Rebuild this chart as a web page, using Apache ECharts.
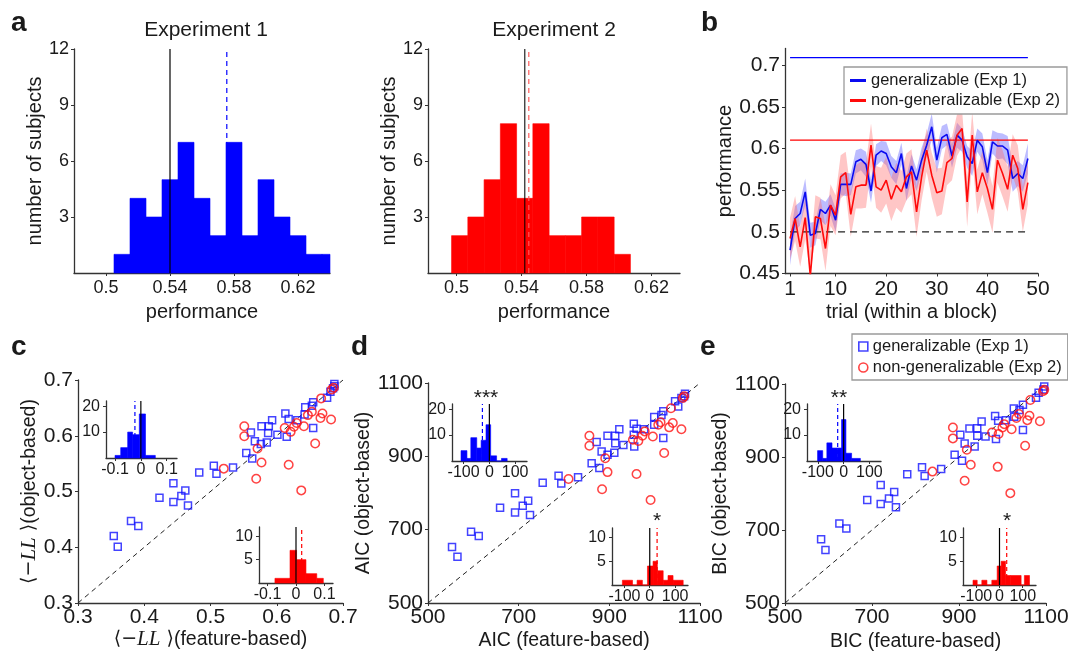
<!DOCTYPE html>
<html>
<head>
<meta charset="utf-8">
<script src="https://cdn.jsdelivr.net/npm/echarts@6/dist/echarts.min.js"></script>
<style>
  html, body { margin: 0; padding: 0; background: #fff; }
  #main { width: 1068px; height: 657px; }
</style>
</head>
<body>
<div id="main"></div>
<script>
// ---- panel a: histograms of performance ----
const exp1Edges = [0.505, 0.515, 0.525, 0.535, 0.545, 0.555, 0.565, 0.575, 0.585, 0.595, 0.605, 0.615, 0.625, 0.635, 0.645]
const exp1Counts = [1, 4, 3, 5, 7, 4, 2, 7, 2, 5, 3, 2, 1, 1]
const exp1Mean = 0.5755
const exp2Edges = [0.497, 0.507, 0.517, 0.527, 0.537, 0.547, 0.557, 0.567, 0.577, 0.587, 0.597, 0.607]
const exp2Counts = [2, 3, 5, 8, 4, 8, 2, 2, 3, 3, 1]
const exp2Mean = 0.5445
const chanceA1 = 0.54
const chanceA2 = 0.542
const perfTicks = [0.5, 0.54, 0.58, 0.62]
const countTicks = [3, 6, 9, 12]

// ---- panel b: learning curves ----
const blueMean = [0.478, 0.516, 0.522, 0.548, 0.496, 0.498, 0.527, 0.522, 0.532, 0.514, 0.557, 0.557, 0.557, 0.584, 0.587, 0.581,
  0.549, 0.592, 0.597, 0.594, 0.578, 0.571, 0.594, 0.552, 0.579, 0.562, 0.586, 0.604, 0.626, 0.586, 0.613, 0.617,
  0.591, 0.616, 0.610, 0.590, 0.582, 0.610, 0.602, 0.571, 0.608, 0.603, 0.603, 0.598, 0.564, 0.570, 0.564, 0.588]
const blueSem = [0.018, 0.015, 0.014, 0.016, 0.015, 0.014, 0.013, 0.014, 0.013, 0.014, 0.013, 0.014, 0.013, 0.014, 0.013, 0.015,
  0.014, 0.013, 0.012, 0.014, 0.013, 0.014, 0.013, 0.015, 0.014, 0.013, 0.015, 0.014, 0.016, 0.015, 0.014, 0.013,
  0.014, 0.015, 0.014, 0.013, 0.015, 0.014, 0.016, 0.015, 0.014, 0.016, 0.015, 0.017, 0.016, 0.015, 0.016, 0.018]
const redMean = [0.492, 0.516, 0.482, 0.517, 0.447, 0.518, 0.516, 0.480, 0.532, 0.520, 0.566, 0.571, 0.521, 0.554, 0.556, 0.556,
  0.604, 0.554, 0.550, 0.562, 0.539, 0.556, 0.548, 0.566, 0.572, 0.524, 0.566, 0.598, 0.568, 0.547, 0.549, 0.583,
  0.588, 0.616, 0.624, 0.536, 0.616, 0.548, 0.571, 0.552, 0.527, 0.586, 0.570, 0.551, 0.592, 0.576, 0.527, 0.559]
const redSem = [0.025, 0.027, 0.024, 0.026, 0.030, 0.026, 0.025, 0.027, 0.025, 0.024, 0.026, 0.025, 0.027, 0.026, 0.028, 0.027,
  0.026, 0.025, 0.027, 0.028, 0.026, 0.027, 0.025, 0.028, 0.027, 0.030, 0.028, 0.026, 0.027, 0.029, 0.028, 0.027,
  0.026, 0.025, 0.022, 0.030, 0.028, 0.027, 0.026, 0.029, 0.028, 0.027, 0.028, 0.027, 0.025, 0.028, 0.027, 0.026]
const blueRef = 0.709
const redRef = 0.61
const chanceB = 0.5
const trialTicks = [1, 10, 20, 30, 40, 50]
const perfTicksB = [0.45, 0.5, 0.55, 0.6, 0.65, 0.7]

// ---- panel c: <-LL> ----
const cBlueX = [0.354, 0.360, 0.380, 0.391, 0.423, 0.444, 0.444, 0.456, 0.462, 0.466, 0.483, 0.505, 0.509, 0.534, 0.554, 0.563, 0.561, 0.567, 0.577, 0.576,
  0.585, 0.587, 0.588, 0.593, 0.601, 0.613, 0.615, 0.618, 0.631, 0.642, 0.643, 0.655, 0.655, 0.653, 0.676, 0.681, 0.685, 0.687, 0.687]
const cBlueY = [0.420, 0.401, 0.447, 0.438, 0.489, 0.515, 0.481, 0.492, 0.502, 0.475, 0.534, 0.546, 0.532, 0.543, 0.569, 0.559, 0.606, 0.590, 0.617, 0.585,
  0.588, 0.605, 0.617, 0.628, 0.602, 0.640, 0.598, 0.630, 0.628, 0.638, 0.651, 0.614, 0.660, 0.654, 0.668, 0.679, 0.685, 0.693, 0.689]
const cRedX = [0.551, 0.551, 0.520, 0.571, 0.577, 0.569, 0.618, 0.637, 0.658, 0.621, 0.612, 0.626, 0.630, 0.641, 0.647, 0.653, 0.666, 0.669, 0.682, 0.667, 0.683, 0.686]
const cRedY = [0.617, 0.599, 0.541, 0.577, 0.552, 0.523, 0.548, 0.502, 0.586, 0.607, 0.614, 0.616, 0.623, 0.617, 0.637, 0.643, 0.632, 0.640, 0.629, 0.667, 0.683, 0.686]
const cTicks = [0.3, 0.4, 0.5, 0.6, 0.7]
const cBlueHistEdges = [-0.1, -0.078, -0.051, -0.032, -0.006, 0.018, 0.056]
const cBlueHistCounts = [1, 4, 10, 9, 17, 1]
const cBlueHistMean = -0.023
const cRedHistEdges = [-0.074, -0.021, 0.002, 0.035, 0.073, 0.096]
const cRedHistCounts = [1, 7, 5, 2, 1]
const cRedHistMean = 0.02

// ---- panel d: AIC ----
const dBlueX = [553, 565, 595, 612, 659, 692, 692, 709, 721, 725, 753, 788, 794, 831, 861, 878, 872, 883, 896, 896,
  913, 913, 911, 922, 931, 954, 954, 955, 960, 977, 999, 999, 1019, 1019, 1015, 1045, 1052, 1059, 1067, 1065]
const dBlueY = [653, 626, 694, 683, 760, 799, 747, 765, 779, 740, 828, 847, 826, 843, 881, 868, 939, 913, 956, 904,
  956, 936, 910, 974, 931, 989, 959, 927, 975, 974, 1007, 986, 950, 1023, 1013, 1050, 1036, 1059, 1071, 1064]
const dRedX = [856, 856, 810, 891, 896, 884, 960, 991, 1021, 952, 964, 973, 978, 996, 1008, 1013, 1032, 1040, 1059, 1036, 1062, 1065]
const dRedY = [956, 929, 838, 895, 857, 810, 852, 781, 909, 945, 942, 956, 968, 954, 986, 993, 979, 991, 974, 1031, 1059, 1064]
const dBlueHistEdges = [-110, -87, -72, -49, -32, -13, 5, 28, 47, 69]
const dBlueHistCounts = [4, 1, 9, 5, 8, 14, 2, 0, 1]
const dBlueHistMean = -27
const dRedHistEdges = [-108, -68, -50, -29, -9, 13, 30, 53, 72, 92, 132]
const dRedHistCounts = [1, 0, 1, 0, 4, 5, 3, 1, 2, 1]
const dRedHistMean = 29

// ---- panel e: BIC ----
const eBlueX = [583, 593, 625, 641, 689, 720, 720, 739, 751, 755, 781, 815, 821, 859, 890, 907, 903, 913, 924, 936,
  942, 942, 952, 961, 983, 985, 990, 1008, 1026, 1047, 1047, 1039, 1077, 1083, 1096, 1094, 1027]
const eBlueY = [675, 645, 718, 704, 782, 823, 771, 786, 804, 762, 853, 872, 848, 867, 906, 890, 961, 937, 978, 929,
  979, 958, 997, 956, 1012, 949, 999, 1001, 1033, 1043, 974, 1029, 1062, 1076, 1093, 1085, 1010]
const eRedX = [886, 886, 839, 918, 927, 913, 989, 1018, 1052, 976, 991, 1000, 1004, 1021, 1032, 1038, 1057, 1062, 1086, 1064, 1093, 1096]
const eRedY = [981, 951, 860, 920, 879, 835, 873, 801, 931, 967, 963, 981, 990, 976, 1007, 1018, 1001, 1013, 998, 1056, 1080, 1084]
const icTicks = [500, 700, 900, 1100]
const eBlueHistEdges = [-101, -81, -65, -45, -23, -8, 9, 31, 65]
const eBlueHistCounts = [4, 1, 7, 5, 5, 16, 3, 1]
const eBlueHistMean = -23
const eRedHistEdges = [-114, -96, -76, -54, -33, -10, 7, 26, 47, 93, 107, 129]
const eRedHistCounts = [1, 0, 1, 0, 1, 4, 5, 2, 2, 0, 2]
const eRedHistMean = 31

const insetBlueTicks = [10, 20]
const insetRedTicks = [5, 10]

const FONT = '"Liberation Sans", Arial, Helvetica, sans-serif'
const TXT = '#1a1a1a'
const AX = '#333'
const BLUE = '#0000ff'
const RED = '#ff0000'
const MARK_BLUE = '#1414ff'
const MARK_RED = '#ff1414'

const chart = echarts.init(document.getElementById('main'), null, { renderer: 'canvas' })

const zip = (xs, ys) => xs.map((x, i) => [x, ys[i]])
const hist = (edges, counts) => counts.map((c, i) => [edges[i], edges[i + 1], c])
const trialPts = (arr) => arr.map((v, i) => [i + 1, v])

const histRender = (params, api) => {
  const p0 = api.coord([api.value(0), api.value(2)])
  const p1 = api.coord([api.value(1), 0])
  const rect = echarts.graphic.clipRectByRect(
    { x: p0[0], y: p0[1], width: p1[0] - p0[0], height: p1[1] - p0[1] },
    params.coordSys
  )
  if (!rect) return null
  const style = api.style()
  style.stroke = style.fill
  style.lineWidth = 0.6
  return { type: 'rect', shape: rect, style }
}

// shaded band (mean ± sem) drawn as one polygon through the axis scales
const bandRender = (mean, sem, color) => (params, api) => {
  if (params.dataIndex !== 0) return null
  const pts = []
  mean.forEach((v, i) => pts.push(api.coord([i + 1, v - sem[i]])))
  for (let i = mean.length - 1; i >= 0; i--) pts.push(api.coord([i + 1, mean[i] + sem[i]]))
  return {
    type: 'polygon',
    shape: { points: echarts.graphic.clipPointsByRect(pts, params.coordSys) },
    style: { fill: color }
  }
}

// grids: a1, a2, b, c, cIn1, cIn2, d, dIn1, dIn2, e, eIn1, eIn2
const grids = [
  { left: 74, top: 49, width: 256, height: 224 },
  { left: 428, top: 49, width: 252, height: 224 },
  { left: 785, top: 48.5, width: 253, height: 225 },
  { left: 78, top: 380, width: 265, height: 223 },
  { left: 106, top: 401, width: 71, height: 57 },
  { left: 259, top: 527, width: 74, height: 56 },
  { left: 428, top: 383, width: 272, height: 220 },
  { left: 452, top: 404, width: 75, height: 57 },
  { left: 612, top: 528, width: 76, height: 57 },
  { left: 785, top: 384, width: 261, height: 219 },
  { left: 807, top: 404, width: 74, height: 57 },
  { left: 963, top: 528, width: 73, height: 57 }
].map((g) => Object.assign({ outerBoundsMode: 'none', containLabel: false }, g))

const axis = (gridIndex, min, max, ticks, fontSize, margin, extra) => Object.assign({
  type: 'value',
  gridIndex,
  min,
  max,
  axisLine: { show: true, onZero: false, lineStyle: { color: AX, width: 1.3 } },
  axisTick: { show: true, inside: false, length: 3, customValues: ticks, lineStyle: { color: AX, width: 1 } },
  axisLabel: {
    customValues: ticks,
    fontSize,
    fontFamily: FONT,
    color: TXT,
    margin,
    formatter: (v) => String(v)
  },
  splitLine: { show: false }
}, extra)

const nameStyle = (size) => ({ fontSize: size, fontFamily: FONT, color: TXT })
const llRich = {
  fontSize: 19.5,
  fontFamily: FONT,
  color: TXT,
  rich: {
    i: { fontStyle: 'italic', fontFamily: '"Liberation Serif", "DejaVu Serif", serif', fontSize: 21, color: TXT },
    m: { fontFamily: '"DejaVu Sans", sans-serif', fontSize: 19, color: TXT }
  }
}

const xAxes = [
  axis(0, 0.48, 0.64, perfTicks, 18, 6, { name: 'performance', nameLocation: 'middle', nameGap: 29, nameTextStyle: nameStyle(20) }),
  axis(1, 0.4825, 0.6375, perfTicks, 18, 6, { name: 'performance', nameLocation: 'middle', nameGap: 29, nameTextStyle: nameStyle(20) }),
  axis(2, 0, 50, trialTicks, 21, 5, { name: 'trial (within a block)', nameLocation: 'middle', nameGap: 29, nameTextStyle: nameStyle(20) }),
  axis(3, 0.3, 0.7, cTicks, 21, 4, { name: '{m|⟨−}{i|LL}{m| ⟩}(feature-based)', nameLocation: 'middle', nameGap: 26, nameTextStyle: llRich }),
  axis(4, -0.135, 0.14, [-0.1, 0, 0.1], 16, 4),
  axis(5, -0.13, 0.13, [-0.1, 0, 0.1], 16, 4),
  axis(6, 500, 1100, icTicks, 21, 4, { name: 'AIC (feature-based)', nameLocation: 'middle', nameGap: 28, nameTextStyle: nameStyle(19.5) }),
  axis(7, -145, 146, [-100, 0, 100], 16, 4),
  axis(8, -149, 151, [-100, 0, 100], 16, 4),
  axis(9, 500, 1100, icTicks, 21, 4, { name: 'BIC (feature-based)', nameLocation: 'middle', nameGap: 29, nameTextStyle: nameStyle(19.5) }),
  axis(10, -142, 145, [-100, 0, 100], 16, 4),
  axis(11, -157, 157, [-100, 0, 100], 16, 4)
]

const yAxes = [
  axis(0, 0, 12, countTicks, 18, 5, { name: 'number of subjects', nameLocation: 'middle', nameGap: 24, nameTextStyle: nameStyle(20) }),
  axis(1, 0, 12, countTicks, 18, 5, { name: 'number of subjects', nameLocation: 'middle', nameGap: 26, nameTextStyle: nameStyle(20) }),
  axis(2, 0.45, 0.72, perfTicksB, 21, 5, { name: 'performance', nameLocation: 'middle', nameGap: 48, nameTextStyle: nameStyle(20) }),
  axis(3, 0.3, 0.7, cTicks, 21, 5, { name: '{m|⟨−}{i|LL}{m| ⟩}(object-based)', nameLocation: 'middle', nameGap: 36, nameTextStyle: llRich }),
  axis(4, 0, 22, insetBlueTicks, 16, 6),
  axis(5, 0, 12, insetRedTicks, 16, 6),
  axis(6, 500, 1100, icTicks, 21, 5, { name: 'AIC (object-based)', nameLocation: 'middle', nameGap: 47, nameTextStyle: nameStyle(19.5) }),
  axis(7, 0, 22, insetBlueTicks, 16, 6),
  axis(8, 0, 12, insetRedTicks, 16, 6),
  axis(9, 500, 1100, icTicks, 21, 5, { name: 'BIC (object-based)', nameLocation: 'middle', nameGap: 49, nameTextStyle: nameStyle(19.5) }),
  axis(10, 0, 22, insetBlueTicks, 16, 6),
  axis(11, 0, 12, insetRedTicks, 16, 6)
]

// simple line between two points on a grid
const seg = (idx, pts, color, width, type, z) => ({
  type: 'line',
  xAxisIndex: idx,
  yAxisIndex: idx,
  data: pts,
  symbol: 'none',
  silent: true,
  z,
  lineStyle: { color, width, type }
})

const histSeries = (idx, edges, counts, color) => ({
  type: 'custom',
  xAxisIndex: idx,
  yAxisIndex: idx,
  renderItem: histRender,
  encode: { x: [0, 1], y: 2 },
  itemStyle: { color },
  data: hist(edges, counts),
  silent: true,
  z: 2
})

const bandSeries = (mean, sem, color) => ({
  type: 'custom',
  xAxisIndex: 2,
  yAxisIndex: 2,
  renderItem: bandRender(mean, sem, color),
  encode: { x: 0, y: 1 },
  data: trialPts(mean),
  silent: true,
  z: 1
})

const scatter = (idx, name, pts, symbol, size, color) => ({
  type: 'scatter',
  name,
  xAxisIndex: idx,
  yAxisIndex: idx,
  symbol,
  symbolSize: size,
  data: pts,
  itemStyle: { color: 'rgba(0,0,0,0)', borderColor: color, borderWidth: 1.5 },
  z: 3
})

const inset = (idx, edges, counts, mean, yMax, color) => [
  seg(idx, [[mean, 0], [mean, yMax]], color, 1.2, [4, 3], 1),
  histSeries(idx, edges, counts, color),
  seg(idx, [[0, 0], [0, yMax]], '#000', 1.2, 'solid', 4)
]

const series = [
  // a: Experiment 1
  seg(0, [[exp1Mean, 0], [exp1Mean, 12]], BLUE, 1.2, [5, 4], 1),
  histSeries(0, exp1Edges, exp1Counts, BLUE),
  seg(0, [[chanceA1, 0], [chanceA1, 12]], '#000', 1.2, 'solid', 4),
  // a: Experiment 2
  seg(1, [[exp2Mean, 0], [exp2Mean, 12]], '#ff5a5a', 1.2, [5, 4], 5),
  histSeries(1, exp2Edges, exp2Counts, RED),
  seg(1, [[chanceA2, 0], [chanceA2, 12]], 'rgba(0,0,0,0.75)', 1.4, 'solid', 4),
  // b
  bandSeries(blueMean, blueSem, 'rgba(95,95,255,0.42)'),
  bandSeries(redMean, redSem, 'rgba(255,105,105,0.38)'),
  seg(2, [[1, chanceB], [48, chanceB]], '#222', 1.2, [7, 5], 2),
  seg(2, [[1, blueRef], [48, blueRef]], BLUE, 1.2, 'solid', 2),
  seg(2, [[1, redRef], [48, redRef]], RED, 1.2, 'solid', 2),
  { type: 'line', name: 'generalizable (Exp 1)', xAxisIndex: 2, yAxisIndex: 2, symbol: 'none',
    lineStyle: { color: '#0a0af0', width: 1.6 }, itemStyle: { color: '#0a0af0' }, data: trialPts(blueMean), z: 3 },
  { type: 'line', name: 'non-generalizable (Exp 2)', xAxisIndex: 2, yAxisIndex: 2, symbol: 'none',
    lineStyle: { color: '#ff0a0a', width: 1.6 }, itemStyle: { color: '#ff0a0a' }, data: trialPts(redMean), z: 4 },
  // c
  seg(3, [[0.3, 0.3], [0.7, 0.7]], '#222', 1, [5, 4], 1),
  scatter(3, 'gen', zip(cBlueX, cBlueY), 'rect', 7, MARK_BLUE),
  scatter(3, 'nongen', zip(cRedX, cRedY), 'circle', 8.5, MARK_RED),
  ...inset(4, cBlueHistEdges, cBlueHistCounts, cBlueHistMean, 22, BLUE),
  ...inset(5, cRedHistEdges, cRedHistCounts, cRedHistMean, 12, RED),
  // d
  seg(6, [[500, 500], [1100, 1100]], '#222', 1, [5, 4], 1),
  scatter(6, 'gen', zip(dBlueX, dBlueY), 'rect', 7, MARK_BLUE),
  scatter(6, 'nongen', zip(dRedX, dRedY), 'circle', 8.5, MARK_RED),
  ...inset(7, dBlueHistEdges, dBlueHistCounts, dBlueHistMean, 22, BLUE),
  ...inset(8, dRedHistEdges, dRedHistCounts, dRedHistMean, 12, RED),
  // e
  seg(9, [[500, 500], [1100, 1100]], '#222', 1, [5, 4], 1),
  scatter(9, 'gen', zip(eBlueX, eBlueY), 'rect', 7, MARK_BLUE),
  scatter(9, 'nongen', zip(eRedX, eRedY), 'circle', 8.5, MARK_RED),
  ...inset(10, eBlueHistEdges, eBlueHistCounts, eBlueHistMean, 22, BLUE),
  ...inset(11, eRedHistEdges, eRedHistCounts, eRedHistMean, 12, RED)
]

const label = (text, x, y, size, weight, align) => ({
  type: 'text',
  x,
  y,
  silent: true,
  style: {
    text,
    fill: TXT,
    font: `${weight || 'normal'} ${size}px ${FONT}`,
    align: align || 'left',
    textAlign: align || 'left',
    verticalAlign: 'middle',
    textVerticalAlign: 'middle'
  }
})

const legendNames = { gen: 'generalizable (Exp 1)', nongen: 'non-generalizable (Exp 2)' }

chart.setOption({
  backgroundColor: '#fff',
  animation: false,
  textStyle: { fontFamily: FONT },
  grid: grids,
  xAxis: xAxes,
  yAxis: yAxes,
  legend: [
    {
      left: 844,
      top: 67,
      orient: 'vertical',
      padding: [5, 7, 5, 6],
      itemGap: 3,
      itemWidth: 16,
      itemHeight: 3,
      icon: 'rect',
      borderColor: '#9a9a9a',
      borderWidth: 1.3,
      backgroundColor: '#fff',
      selectedMode: false,
      textStyle: { fontSize: 16.5, color: TXT, fontFamily: FONT },
      data: ['generalizable (Exp 1)', 'non-generalizable (Exp 2)']
    },
    {
      left: 852,
      top: 334,
      orient: 'vertical',
      padding: [4, 6, 4, 6],
      itemGap: 4,
      itemWidth: 9,
      itemHeight: 9,
      borderColor: '#9a9a9a',
      borderWidth: 1.3,
      backgroundColor: '#fff',
      selectedMode: false,
      textStyle: { fontSize: 16.5, color: TXT, fontFamily: FONT },
      formatter: (name) => legendNames[name],
      data: [
        { name: 'gen', icon: 'rect', itemStyle: { color: 'rgba(0,0,0,0)', borderColor: MARK_BLUE, borderWidth: 1.6 } },
        { name: 'nongen', icon: 'circle', itemStyle: { color: 'rgba(0,0,0,0)', borderColor: MARK_RED, borderWidth: 1.6 } }
      ]
    }
  ],
  graphic: [
    label('a', 11, 23, 28, 'bold'),
    label('b', 701, 23, 28, 'bold'),
    label('c', 11, 347, 28, 'bold'),
    label('d', 351, 347, 28, 'bold'),
    label('e', 700, 347, 28, 'bold'),
    label('Experiment 1', 206, 30, 21, 'normal', 'center'),
    label('Experiment 2', 554, 30, 21, 'normal', 'center'),
    label('***', 486, 398, 21, 'normal', 'center'),
    label('**', 839, 398, 21, 'normal', 'center'),
    label('*', 657, 521, 21, 'normal', 'center'),
    label('*', 1007, 521, 21, 'normal', 'center')
  ],
  series
})

window.addEventListener('resize', () => chart.resize())
</script>
</body>
</html>
